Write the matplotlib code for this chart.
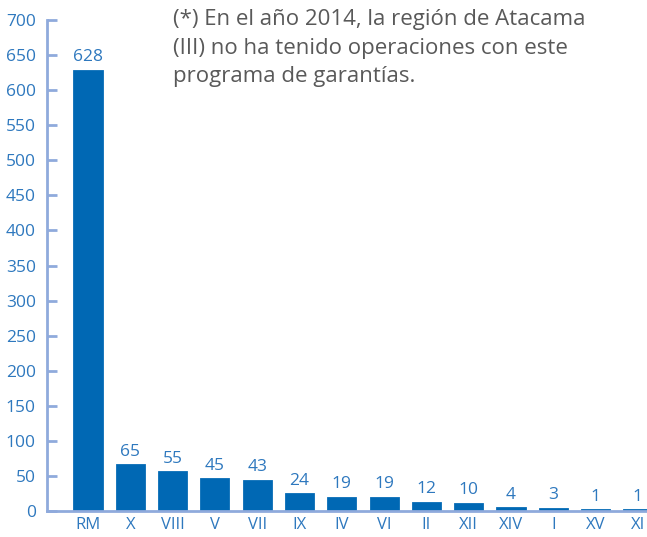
import matplotlib
matplotlib.use("Agg")
import matplotlib.pyplot as plt
import numpy as np

# datos por region (2014)
regiones = ["RM", "X", "VIII", "V", "VII", "IX", "IV", "VI", "II", "XII", "XIV", "I", "XV", "XI"]
valores = [628, 65, 55, 45, 43, 24, 19, 19, 12, 10, 4, 3, 1, 1]
yticks = list(range(0, 701, 50))
nota = "(*) En el año 2014, la región de Atacama\n(III) no ha tenido operaciones con este\nprograma de garantías."

azul = "#0068B4"
azul_txt = "#2E78BE"
eje = "#8FAADC"

plt.rcParams['font.family'] = ['Open Sans', 'DejaVu Sans']

fig = plt.figure(figsize=(6.47, 5.37), dpi=100)
ax = fig.add_axes([47/647, 26/537, 600/647, 491/537])

x = np.arange(len(regiones))
bars = ax.bar(x, valores, width=0.64, color=azul, edgecolor=azul, linewidth=2, zorder=2)

for xi, v in zip(x, valores):
    ax.annotate(str(v), (xi, v), xytext=(0, 4), textcoords="offset points",
                ha="center", va="bottom", color=azul_txt, fontsize=12.5)

ax.set_xlim(-0.97, 13.215)
ax.set_ylim(0, 700)
ax.set_xticks(x)
ax.set_xticklabels(regiones)
ax.set_yticks(yticks)

for s in ["top", "right"]:
    ax.spines[s].set_visible(False)
ax.spines["left"].set_color(eje)
ax.spines["left"].set_linewidth(2)
ax.spines["bottom"].set_color(eje)
ax.spines["bottom"].set_linewidth(2)
ax.spines["bottom"].set_zorder(3)

ax.tick_params(axis="y", direction="in", length=7, width=2, color=eje,
               labelcolor=azul_txt, labelsize=12.5, pad=8)
ax.tick_params(axis="x", length=0, labelcolor=azul_txt, labelsize=12, pad=4)

fig.text(173/647, 1 - 9/537, nota, ha="left", va="top", color="#595959",
         fontsize=16, linespacing=1.48)

fig.savefig("out.png", dpi=100)
